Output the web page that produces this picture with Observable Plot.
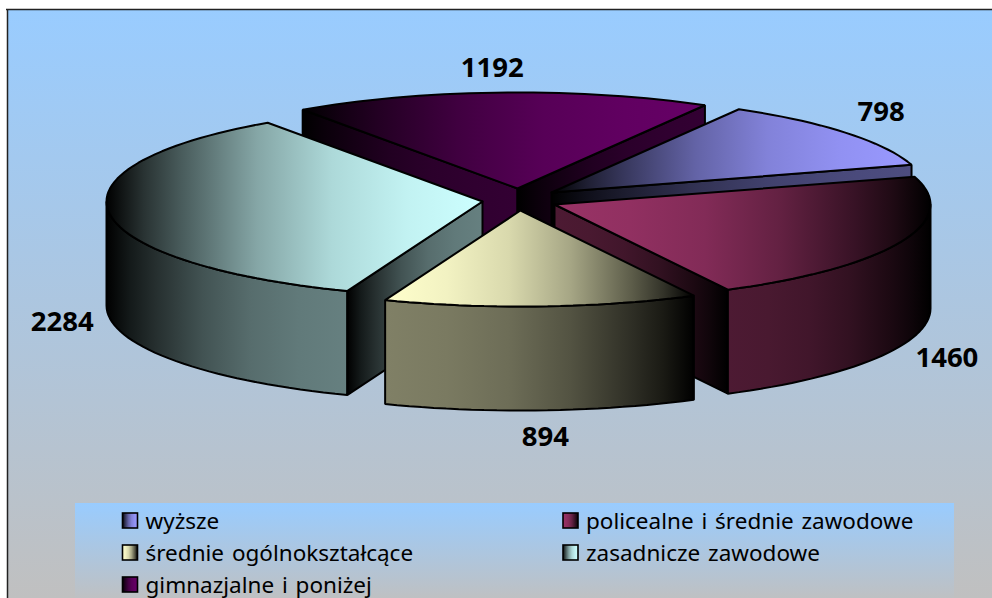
<!DOCTYPE html>
<html lang="pl">
<head>
<meta charset="utf-8">
<script src="https://cdn.jsdelivr.net/npm/d3@7"></script>
<script src="https://cdn.jsdelivr.net/npm/@observablehq/plot@0.6"></script>
<style>
html,body{margin:0;padding:0;background:#fff;overflow:hidden}
svg{display:block}
.leg text{word-spacing:2px}
</style>
</head>
<body>
<div id="chart"></div>
<script>
// ---- chart values
const categories = ["wyższe","policealne i średnie zawodowe","średnie ogólnokształcące","zasadnicze zawodowe","gimnazjalne i poniżej"];
const values = [798,1460,894,2284,1192];
const lightColors = ["#9999ff","#993366","#ffffcc","#ccffff","#660066"];
const lightOnLeft = [false,true,true,false,false];
// ---- layout of the exploded tilted pie
const startAngle = 29.9, center = [518,199], radiusX = 376, radiusY = 96, depth = 104;
const explode = [[33,-7],[36,5],[2,11],[-36,2],[-1,-11]];
const labelShift = [[35,-21],[46,116],[4,131],[-47,109],[-9,-24]];
const drawOrder = [4,0,3,1,2];
const shadeOffsets = [0,.1,.2,.4,.6,.8,1];
const shadeLevels = [0,.2,.36,.65,.85,.95,1];
const W = 992, H = 598;

const total = d3.sum(values);
let acc = startAngle;
const slices = values.map((v,i)=>{
  const a0 = acc, a1 = acc + v/total*360; acc = a1;
  return {i,a0,a1,ax:center[0]+explode[i][0],ay:center[1]+explode[i][1]};
});
const rim = (s,a,dz=0)=>{const r=a*Math.PI/180;return [s.ax+radiusX*Math.sin(r), s.ay-radiusY*Math.cos(r)+dz];};
const arc = (s,a,b,dz=0)=>{const n=Math.max(2,Math.ceil(Math.abs(b-a)/2));return d3.range(n+1).map(k=>rim(s,a+(b-a)*k/n,dz));};
const wall = (s,a)=>{const p=rim(s,a),q=rim(s,a,depth);return [[s.ax,s.ay],p,q,[s.ax,s.ay+depth],[s.ax,s.ay]];};

function facesOf(s){
  const out=[];
  // radial walls facing the viewer
  if(s.i===4){out.push(["wall",wall(s,s.a0)],["wall",wall(s,s.a1)]);}
  if(s.i===0){out.push(["wall",wall(s,s.a1)]);}
  if(s.i===1){out.push(["wall",wall(s,s.a1)]);}
  if(s.i===3){out.push(["wall",wall(s,s.a0)]);}
  // curved outer wall: only the 90..270 part is in front
  const lo=Math.max(s.a0,90), hi=Math.min(s.a1,270);
  if(hi>lo){const t=arc(s,lo,hi),b=arc(s,hi,lo,depth);const ring=[...t,...b,t[0]];out.push(["wall",ring]);}
  // top
  const top=[[s.ax,s.ay],...arc(s,s.a0,s.a1),[s.ax,s.ay]];
  out.push(["top",top]);
  return out;
}

// gradient defs
const scaled = (c,f)=>{const k=d3.rgb(c);return d3.rgb(k.r*f,k.g*f,k.b*f).formatHex();};
function defs(){
  const d=d3.create("svg:defs");
  const bg=(id)=>{
    const g=d.append("linearGradient").attr("id",id).attr("x1",0).attr("y1",0).attr("x2",0).attr("y2",1);
    g.append("stop").attr("offset",0).attr("stop-color","#99ccff");
    g.append("stop").attr("offset",1).attr("stop-color","#c0c0c0");
  };
  bg("bg"); bg("legbg");
  const shade=(id,c,left)=>{
    const g=d.append("linearGradient").attr("id",id).attr("x1",left?1:0).attr("y1",0).attr("x2",left?0:1).attr("y2",0);
    shadeOffsets.forEach((o,j)=>g.append("stop").attr("offset",o).attr("stop-color",scaled(c,shadeLevels[j])));
  };
  lightColors.forEach((c,i)=>{
    shade("top"+i,c,lightOnLeft[i]);
    shade("wall"+i,scaled(c,.5),lightOnLeft[i]);
  });
  return d.node();
}

// marks
const faceMarks = drawOrder.flatMap(i=>facesOf(slices[i]).map(([kind,pts])=>
  Plot.line(pts,{x:d=>d[0],y:d=>d[1],fill:`url(#${kind}${i})`,stroke:"#000",strokeWidth:2,strokeLinejoin:"miter",curve:"linear"})
));

const labels = slices.map((s,i)=>{
  const m=rim(s,(s.a0+s.a1)/2);
  return {text:String(values[i]),x:m[0]+labelShift[i][0],y:m[1]+labelShift[i][1]};
});

const legCols=[122.5,563], legRows=[513,545,577], legOrder=[[0,0],[1,0],[0,1],[1,1],[0,2]];
const legend = legOrder.map(([c,r],i)=>({i,name:categories[i],x:legCols[c],y:legRows[r]}));

const chart = Plot.plot({
  width:W,height:H,margin:0,
  x:{domain:[0,W],range:[0,W],axis:null},
  y:{domain:[0,H],range:[0,H],axis:null},
  style:{background:"#fff",overflow:"hidden"},
  marks:[
    defs,
    Plot.rect([0],{x1:7,x2:W,y1:9,y2:H,fill:"url(#bg)"}),
    Plot.ruleY([9],{x1:6,x2:W,stroke:"#222",strokeWidth:1.5}),
    Plot.ruleX([7],{y1:9,y2:H,stroke:"#222",strokeWidth:1.5}),
    ...faceMarks,
    Plot.text(labels,{x:"x",y:"y",text:"text",fontFamily:"'Noto Sans'",fontWeight:"bold",fontSize:27.5,fill:"#000"}),
    Plot.rect([0],{x1:75,x2:954,y1:503,y2:602,fill:"url(#legbg)"}),
    ...legend.map(d=>Plot.rect([d],{x1:e=>e.x,x2:e=>e.x+15,y1:e=>e.y,y2:e=>e.y+15,fill:`url(#top${d.i})`,stroke:"#000",strokeWidth:1.6})),
    Plot.text(legend,{x:d=>d.x+22.5,y:d=>d.y+15,text:"name",textAnchor:"start",lineAnchor:"bottom",fontFamily:"'Noto Sans'",fontSize:22.5,fill:"#000",className:"leg"})
  ]
});
document.getElementById("chart").append(chart);
</script>
</body>
</html>
